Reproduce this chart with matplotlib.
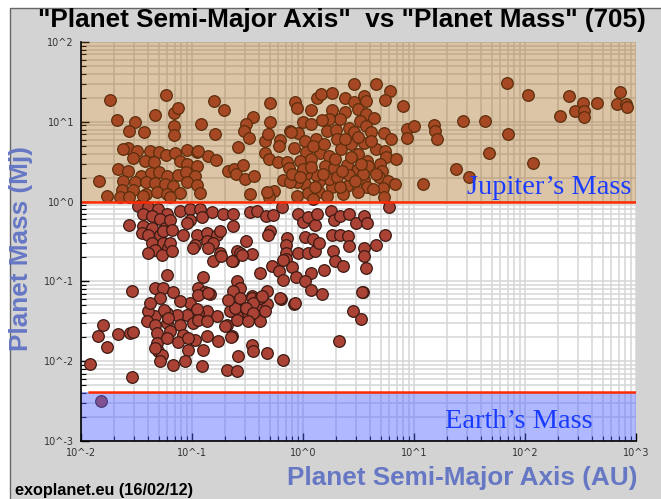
import matplotlib
matplotlib.use("Agg")
import matplotlib.pyplot as plt
from matplotlib.patches import Rectangle
from matplotlib.ticker import FixedLocator, FixedFormatter, LogLocator, NullFormatter

# ---------------- data ----------------
title = '"Planet Semi-Major Axis"  vs "Planet Mass" (705)'
x_label = "Planet Semi-Major Axis (AU)"
y_label = "Planet Mass (Mj)"
footer = "exoplanet.eu (16/02/12)"

x_ticks = [1e-2, 1e-1, 1e0, 1e1, 1e2, 1e3]
x_tick_labels = ["10^-2", "10^-1", "10^0", "10^1", "10^2", "10^3"]
y_ticks = [1e-3, 1e-2, 1e-1, 1e0, 1e1, 1e2]
y_tick_labels = ["10^-3", "10^-2", "10^-1", "10^0", "10^1", "10^2"]

jupiter_mass = 1.0
earth_mass_line = 0.0041
giant_zone = [1.0, 100.0]

# planets with mass >= 1 Mj  (semi-major axis AU, mass Mj)
giant_a = [
    0.0145, 0.0172, 0.0183, 0.0211, 0.0585, 0.0466, 0.0307, 0.0271, 0.0371, 0.0690,
    0.0750, 0.0690, 0.121, 0.158, 0.195, 0.162, 0.508, 0.508, 0.356, 0.308,
    0.296, 0.328, 0.261, 0.458, 0.625, 0.612, 0.458, 0.498, 0.600, 0.212,
    0.240, 0.251, 0.290, 0.302, 0.364, 0.335, 0.552, 0.498, 0.665, 0.769,
    0.908, 0.853, 0.889, 1.01, 1.17, 1.35, 1.44, 1.84, 2.91, 2.41,
    4.59, 6.03, 5.43, 7.89, 3.58, 3.73, 2.91, 1.84, 2.41, 3.10,
    3.66, 4.32, 3.23, 2.17, 1.73, 1.47, 1.17, 0.488, 0.785, 1.05,
    1.32, 1.66, 2.00, 2.62, 2.91, 3.73, 4.14, 5.32, 6.15, 8.57,
    8.57, 2.04, 2.22, 2.68, 3.51, 4.59, 5.43, 5.55, 0.836, 1.07,
    1.41, 1.73, 3.10, 3.81, 0.723, 0.946, 1.17, 1.59, 1.92, 2.47,
    3.10, 3.89, 4.89, 5.10, 4.79, 5.78, 5.21, 5.32, 3.58, 3.81,
    3.10, 2.47, 2.31, 1.84, 1.73, 1.38, 1.32, 1.07, 1.05, 0.889,
    0.769, 0.754, 0.802, 1.01, 1.38, 1.10, 1.66, 0.889, 0.477, 2.57,
    2.04, 1.22, 10.1, 15.0, 15.3, 16.0, 27.5, 43.4, 68.5, 106,
    70.0, 47.1, 117, 23.7, 31.1, 12.0, 248, 206, 281, 332,
    339, 339, 445, 718, 673, 813, 830, 0.0690, 0.0266, 0.0320,
    0.0295, 0.0420, 0.0506, 0.0585, 0.0705, 0.0906, 0.111, 0.140, 0.165, 0.0378,
    0.0456, 0.0782, 0.0906, 0.111, 0.0216, 0.0266, 0.0348, 0.0429, 0.0506, 0.0597,
    0.0750, 0.0887, 0.107, 0.0239, 0.0307, 0.0386, 0.0466, 0.0573, 0.0676, 0.0906,
    0.111, 0.0234, 0.0295, 0.0386, 0.0485, 0.0597, 0.0782, 0.119, 0.0225, 0.0271,
    0.0363, 0.0635, 0.0239, 0.114, 1.22, 1.53, 2.41, 3.16, 4.06, 1.96,
    2.68, 3.44, 4.23, 2.17, 1.29, 0.946, 1.50, 2.97, 6.82, 6.68,
    1.17, 2.26, 4.50, 3.30,
]
giant_m = [
    1.83, 1.19, 18.6, 10.5, 21.5, 12.1, 9.91, 7.66, 7.44, 12.8,
    14.8, 8.84, 9.36, 18.1, 14.0, 7.03, 17.1, 9.91, 11.4, 9.36,
    7.66, 6.27, 4.84, 5.75, 5.92, 4.98, 4.08, 3.43, 3.15, 2.43,
    2.58, 2.23, 2.89, 1.93, 2.11, 1.26, 1.37, 1.15, 1.88, 7.66,
    7.23, 17.6, 14.8, 9.91, 14.0, 19.7, 22.1, 22.8, 29.5, 19.7,
    29.5, 24.1, 18.6, 15.7, 20.9, 18.1, 17.6, 14.0, 13.2, 14.4,
    12.5, 11.1, 10.2, 10.8, 10.8, 10.5, 9.36, 7.03, 7.44, 5.75,
    6.09, 7.66, 7.88, 8.35, 7.44, 8.84, 7.44, 7.23, 6.09, 8.11,
    6.27, 6.09, 4.57, 5.28, 5.43, 4.57, 4.32, 3.64, 4.70, 4.19,
    4.08, 3.74, 3.96, 3.24, 3.15, 3.24, 3.43, 2.81, 2.65, 2.89,
    2.58, 2.81, 2.97, 2.43, 2.05, 1.83, 1.49, 1.15, 1.88, 1.54,
    1.33, 1.58, 1.26, 1.54, 1.93, 1.83, 2.17, 2.23, 1.68, 1.77,
    1.77, 2.65, 2.23, 2.58, 1.33, 1.29, 1.19, 1.19, 1.33, 2.17,
    2.05, 1.09, 8.84, 9.10, 7.66, 6.09, 10.2, 10.2, 30.3, 21.5,
    7.03, 4.08, 3.06, 2.58, 2.05, 1.68, 20.9, 11.8, 13.6, 17.1,
    13.6, 11.4, 17.1, 23.4, 16.6, 16.6, 15.2, 6.83, 4.70, 4.32,
    3.53, 4.32, 4.19, 3.85, 4.08, 4.44, 4.19, 3.74, 3.33, 3.24,
    3.15, 3.24, 2.97, 2.81, 2.58, 2.43, 2.11, 2.30, 2.36, 2.11,
    2.17, 2.36, 2.11, 1.83, 1.77, 1.77, 1.72, 1.68, 1.58, 1.77,
    1.63, 1.41, 1.41, 1.26, 1.33, 1.26, 1.29, 1.29, 1.15, 1.15,
    1.19, 1.15, 4.57, 4.32, 4.98, 5.28, 6.09, 6.45, 5.75, 3.43,
    3.64, 2.23, 1.45, 1.54, 1.54, 2.05, 2.23, 1.83, 3.43, 1.68,
    2.73, 2.43, 2.23, 2.97,
]

# planets with mass < 1 Mj
small_a = [
    0.0327, 0.0403, 0.0495, 0.0597, 0.0363, 0.0437, 0.0516, 0.0271, 0.0363, 0.0437,
    0.0573, 0.0356, 0.0403, 0.0516, 0.0437, 0.0550, 0.0610, 0.0466, 0.0403, 0.0538,
    0.0782, 0.0964, 0.119, 0.152, 0.191, 0.235, 0.0964, 0.111, 0.137, 0.169,
    0.137, 0.155, 0.107, 0.235, 0.180, 0.256, 0.0635, 0.0906, 0.124, 0.0550,
    0.0662, 0.0832, 0.180, 0.335, 0.387, 0.468, 0.541, 0.652, 0.908, 1.01,
    1.10, 1.29, 1.35, 1.77, 1.92, 2.17, 2.57, 3.03, 3.51, 3.81,
    5.90, 0.308, 0.272, 0.349, 0.235, 0.508, 0.488, 0.723, 0.708, 0.708,
    0.708, 0.908, 1.10, 1.29, 1.05, 1.24, 1.38, 1.84, 2.17, 2.52,
    2.62, 1.88, 1.96, 2.31, 3.51, 3.51, 3.73, 4.59, 5.43, 0.412,
    0.530, 0.612, 0.665, 0.802, 0.871, 1.17, 1.05, 1.19, 1.47, 1.53,
    0.256, 0.272, 0.235, 0.349, 0.387, 0.477, 0.477, 0.638, 0.836, 0.272,
    0.302, 0.256, 0.412, 3.44, 2.85, 3.30, 0.0635, 0.140, 0.0662, 0.155,
    0.183, 0.231, 0.284, 0.665, 0.0597, 0.126, 0.103, 0.0288, 0.0466, 0.0550,
    0.0516, 0.0676, 0.114, 0.132, 0.146, 0.349, 0.412, 0.356, 0.625, 0.853,
    0.458, 0.221, 0.208, 0.231, 0.169, 0.137, 0.114, 0.0906, 0.0735, 0.0597,
    0.0466, 0.0403, 0.0394, 0.0466, 0.0597, 0.0782, 0.103, 0.0485, 0.0635, 0.0832,
    0.137, 0.107, 0.172, 0.0485, 0.0495, 0.0538, 0.0925, 0.126, 0.349, 0.356,
    0.477, 0.261, 0.665, 0.0516, 0.0676, 0.0869, 0.124, 0.208, 0.256, 2.13,
    3.37, 0.0420, 0.0561, 0.0610, 0.0597, 0.0750, 0.0925, 0.0964, 0.111, 0.114,
    0.137, 0.114, 0.140, 0.245, 0.256, 0.200, 0.226, 0.212, 0.272, 0.430,
    0.308, 0.356, 0.321, 0.0466, 0.0782, 0.0158, 0.0142, 0.0216, 0.0277, 0.0295,
    0.0172, 0.0121, 0.0288, 0.0152,
]
small_m = [
    0.892, 0.867, 0.818, 0.709, 0.709, 0.669, 0.614, 0.503, 0.488, 0.461,
    0.461, 0.399, 0.377, 0.377, 0.300, 0.300, 0.260, 0.245, 0.225, 0.213,
    0.773, 0.818, 0.818, 0.750, 0.709, 0.709, 0.580, 0.377, 0.399, 0.377,
    0.318, 0.300, 0.283, 0.488, 0.225, 0.238, 0.580, 0.532, 0.650, 0.423,
    0.435, 0.377, 0.423, 0.750, 0.773, 0.669, 0.689, 0.867, 0.709, 0.563,
    0.650, 0.503, 0.709, 0.773, 0.580, 0.669, 0.709, 0.547, 0.669, 0.532,
    0.867, 0.318, 0.225, 0.219, 0.179, 0.423, 0.377, 0.346, 0.283, 0.225,
    0.190, 0.225, 0.225, 0.238, 0.356, 0.336, 0.300, 0.377, 0.377, 0.366,
    0.275, 0.238, 0.179, 0.155, 0.260, 0.207, 0.146, 0.283, 0.377, 0.127,
    0.155, 0.134, 0.104, 0.151, 0.113, 0.127, 0.101, 0.0779, 0.0695, 0.138,
    0.101, 0.0825, 0.0757, 0.0656, 0.0507, 0.0522, 0.0757, 0.0602, 0.0522, 0.0507,
    0.0403, 0.0370, 0.0321, 0.0736, 0.0427, 0.0340, 0.300, 0.260, 0.238, 0.179,
    0.207, 0.179, 0.213, 0.184, 0.120, 0.113, 0.260, 0.0757, 0.0825, 0.0825,
    0.0619, 0.0736, 0.0825, 0.0736, 0.0695, 0.0619, 0.0619, 0.0537, 0.0619, 0.0537,
    0.0427, 0.0427, 0.0286, 0.0208, 0.0370, 0.0427, 0.0403, 0.0380, 0.0380, 0.0403,
    0.0370, 0.0427, 0.0321, 0.0286, 0.0303, 0.0286, 0.0303, 0.0227, 0.0240, 0.0214,
    0.0208, 0.0186, 0.0181, 0.0171, 0.0135, 0.0121, 0.0139, 0.0139, 0.0161, 0.0135,
    0.0128, 0.0117, 0.0105, 0.0102, 0.00907, 0.0102, 0.00881, 0.00785, 0.00764, 0.0181,
    0.0736, 0.0537, 0.0439, 0.0349, 0.0197, 0.0175, 0.0197, 0.0537, 0.0452, 0.0330,
    0.0321, 0.0675, 0.0715, 0.0465, 0.0330, 0.0278, 0.0202, 0.0585, 0.0619, 0.0656,
    0.0465, 0.0403, 0.0321, 0.0148, 0.0568, 0.0286, 0.0208, 0.0221, 0.0227, 0.0234,
    0.0152, 0.00933, 0.00643, 0.00314,
]

# ---------------- figure ----------------
W, H = 661, 499
fig = plt.figure(figsize=(W / 100, H / 100), dpi=100)
fig.patch.set_facecolor("white")
fig.patches.append(Rectangle((10 / W, -0.02), 1.0, (H - 8) / H + 0.02,
                             transform=fig.transFigure, facecolor="#d3d3d3",
                             edgecolor="#666666", lw=1.0, zorder=-10))

ax = fig.add_axes([81 / W, 58 / H, 555 / W, 399 / H])
ax.set_xscale("log")
ax.set_yscale("log")
ax.set_xlim(x_ticks[0], x_ticks[-1])
ax.set_ylim(y_ticks[0], y_ticks[-1])
ax.set_facecolor("white")
ax.set_axisbelow(True)

ax.xaxis.set_major_locator(FixedLocator(x_ticks))
ax.xaxis.set_major_formatter(FixedFormatter(x_tick_labels))
ax.yaxis.set_major_locator(FixedLocator(y_ticks))
ax.yaxis.set_major_formatter(FixedFormatter(y_tick_labels))
for axis in (ax.xaxis, ax.yaxis):
    axis.set_minor_locator(LogLocator(base=10, subs=range(2, 10), numticks=20))
    axis.set_minor_formatter(NullFormatter())

ax.grid(True, which="both", color="#d6d6d6", lw=1.1, zorder=0)

ax.scatter(giant_a + small_a, giant_m + small_m, s=70, c="#ab4236",
           edgecolors="#3b1a12", linewidths=0.9, zorder=2)

ax.axhspan(giant_zone[0], giant_zone[1], color=(155 / 255, 86 / 255, 1 / 255),
           alpha=0.35, lw=0, zorder=3)
ax.axhspan(y_ticks[0], earth_mass_line, color=(80 / 255, 100 / 255, 1.0),
           alpha=0.45, lw=0, zorder=3)
ax.axhline(jupiter_mass, color="#ff2a00", lw=1.8, zorder=4)
ax.hlines(earth_mass_line, 0.0115, x_ticks[-1], color="#ff2a00", lw=1.8, zorder=4)

ax.text(900, 1.25, "Jupiter\u2019s Mass", ha="right", va="baseline",
        family="Liberation Serif", fontsize=20.5, color="#1a3cff", zorder=5)
ax.text(410, 0.00146, "Earth\u2019s Mass", ha="right", va="baseline",
        family="Liberation Serif", fontsize=20.5, color="#1a3cff", zorder=5)

for side in ("top", "right"):
    ax.spines[side].set_visible(False)
for side in ("left", "bottom"):
    ax.spines[side].set_color("black")
    ax.spines[side].set_linewidth(1.2)
    ax.spines[side].set_zorder(6)

ax.tick_params(which="both", direction="in", top=False, right=False, color="black")
ax.tick_params(which="major", length=6, width=1.0, labelsize=7, pad=5, labelcolor="#333333")
ax.tick_params(which="minor", length=3.5, width=0.8)

fig.text(342 / W, 1 - 20 / H, title, ha="center", va="center", fontsize=18.8,
         fontweight="bold", family="Liberation Sans", color="black")
fig.text(21 / W, 1 - 249 / H, y_label, rotation=90, ha="center", va="center",
         fontsize=18.8, fontweight="bold", family="Liberation Sans", color="#6677c4")
fig.text(637 / W, 1 - 478 / H, x_label, ha="right", va="center",
         fontsize=18.8, fontweight="bold", family="Liberation Sans", color="#6677c4")
fig.text(15 / W, 1 - 491 / H, footer, ha="left", va="center",
         fontsize=11.7, fontweight="bold", family="Liberation Sans", color="black")

fig.savefig("out.png", dpi=100)
